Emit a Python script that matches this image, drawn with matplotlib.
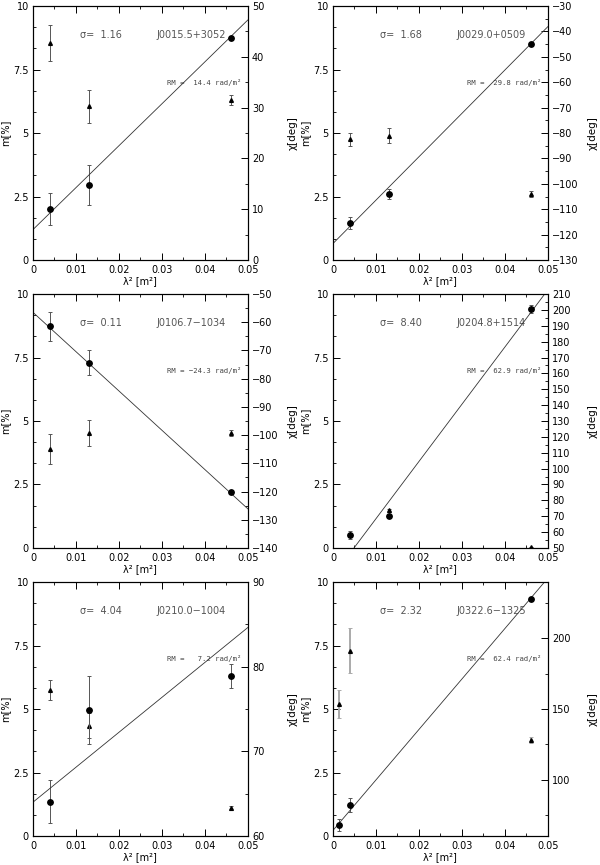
import numpy as np
import matplotlib
matplotlib.use("Agg")
import matplotlib.pyplot as plt
from matplotlib.ticker import MultipleLocator

# source names, fit quality and rotation measure per panel
names = ["J0015.5+3052", "J0029.0+0509", "J0106.7\u22121034",
         "J0204.8+1514", "J0210.0\u22121004", "J0322.6\u22121325"]
sigmas = ["1.16", "1.68", "0.11", "8.40", "4.04", "2.32"]
rms = [14.4, 29.8, -24.3, 62.9, 7.2, 62.4]
chi0 = [6.0, -123.5, -56.5, 32.4, 64.0, 64.0]     # fit intercept (deg)

# lambda^2 of the points [m^2]
lam2 = [
    [0.004, 0.013, 0.046],
    [0.004, 0.013, 0.046],
    [0.004, 0.013, 0.046],
    [0.004, 0.013, 0.046],
    [0.004, 0.013, 0.046],
    [0.0013, 0.004, 0.046],
]
# polarisation fraction m [%] (triangles)
m_val = [
    [8.55, 6.05, 6.3],
    [4.75, 4.9, 2.6],
    [3.9, 4.52, 4.52],
    [0.5, 1.48, 0.02],
    [5.75, 4.35, 1.1],
    [5.2, 7.3, 3.78],
]
m_err = [
    [0.7, 0.65, 0.2],
    [0.25, 0.3, 0.1],
    [0.6, 0.5, 0.12],
    [0.05, 0.05, 0.03],
    [0.38, 0.5, 0.08],
    [0.55, 0.88, 0.12],
]
# polarisation angle chi [deg] (circles)
chi_val = [
    [10.0, 14.75, 43.75],
    [-115.5, -104.0, -45.0],
    [-61.5, -74.3, -120.2],
    [58.0, 70.0, 200.4],
    [64.05, 74.85, 78.9],
    [67.6, 82.0, 228.3],
]
chi_err = [
    [3.1, 3.9, 0.4],
    [2.3, 1.8, 0.5],
    [5.2, 4.5, 0.6],
    [2.4, 0.6, 2.4],
    [2.55, 4.0, 1.4],
    [4.3, 5.0, 0.5],
]
chi_lim = [(0, 50), (-130, -30), (-140, -50), (50, 210), (60, 90), (60, 240)]
chi_major = [10, 10, 10, 10, 10, 50]
chi_minor = [5, 5, 5, 5, 5, 25]

plt.rcParams['font.family'] = ['DejaVu Sans']
plt.rcParams['axes.linewidth'] = 0.8

fig = plt.figure(figsize=(6.0, 8.65), dpi=100)

lefts = [0.055, 0.555]
bottoms = [0.6994, 0.3665, 0.0335]
w, h = 0.358, 0.2936

for i in range(6):
    row, col = divmod(i, 2)
    ax = fig.add_axes([lefts[col], bottoms[row], w, h])
    ax2 = ax.twinx()

    x = np.array(lam2[i])
    # m on left axis
    err_col = '#aaaaaa' if i == 5 else '#555555'
    err_lw = 1.4 if i == 5 else 0.7
    ax.errorbar(x, m_val[i], yerr=m_err[i], fmt='^', color='black', ms=2.7,
                ecolor=err_col, elinewidth=err_lw, capsize=1.6, capthick=0.7)
    # chi on right axis with RM fit
    ax2.errorbar(x, chi_val[i], yerr=chi_err[i], fmt='o', color='black', ms=3.9,
                 ecolor='#555555', elinewidth=0.7, capsize=1.6, capthick=0.7)
    xf = np.array([0.0, 0.05])
    ax2.plot(xf, chi0[i] + rms[i] * 180 / np.pi * xf, color='#333333', lw=0.6)

    ax.set_xlim(0, 0.05)
    ax.set_ylim(0, 10)
    ax2.set_ylim(*chi_lim[i])

    ax.set_xticks([0, 0.01, 0.02, 0.03, 0.04, 0.05])
    ax.set_xticklabels(['0', '0.01', '0.02', '0.03', '0.04', '0.05'])
    ax.xaxis.set_minor_locator(MultipleLocator(0.005))
    ax.set_yticks([0, 2.5, 5, 7.5, 10])
    ax.set_yticklabels(['0', '2.5', '5', '7.5', '10'])
    ax.yaxis.set_minor_locator(MultipleLocator(2.5 / 3))
    ax2.yaxis.set_major_locator(MultipleLocator(chi_major[i]))
    ax2.yaxis.set_minor_locator(MultipleLocator(chi_minor[i]))

    ax.tick_params(axis='x', which='both', direction='in', top=True, labelsize=7, pad=3.5)
    ax.tick_params(axis='y', which='both', direction='in', right=False, labelsize=7, pad=3)
    ax.tick_params(which='major', length=5, width=0.7)
    ax.tick_params(which='minor', length=2.5, width=0.6)
    ax2.tick_params(which='both', direction='in', labelsize=7, pad=3)
    ax2.tick_params(which='major', length=5, width=0.7)
    ax2.tick_params(which='minor', length=2.5, width=0.6)

    ax.set_xlabel('\u03bb\u00b2 [m\u00b2]', fontsize=7, labelpad=1)
    ax.set_ylabel('m[%]', fontsize=7)
    ax.yaxis.set_label_coords(-0.105, 0.5)
    ax2.set_ylabel('\u03c7[deg]', fontsize=7.5, rotation=90)
    ax2.yaxis.set_label_coords(1.185, 0.5)

    ax.text(0.0109, 8.85, '\u03c3=  ' + sigmas[i], fontsize=7, color='#555555',
            va='center', ha='left')
    ax.text(0.0287, 8.85, names[i], fontsize=7, color='#555555',
            va='center', ha='left')
    rm_txt = 'RM = %5s rad/m\u00b2' % ('%.1f' % rms[i]).replace('-', '\u2212')
    ax.text(0.0311, 7.0, rm_txt, fontsize=5.2, color='#444444',
            family='DejaVu Sans Mono', va='center', ha='left')

    ax2.set_zorder(ax.zorder + 1)
    ax2.patch.set_visible(False)

fig.savefig('out.png', dpi=100)
